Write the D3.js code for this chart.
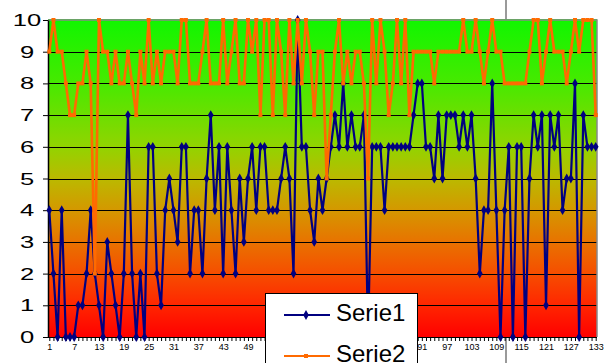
<!DOCTYPE html>
<html><head><meta charset="utf-8">
<script src="https://cdn.jsdelivr.net/npm/d3@7/dist/d3.min.js"></script>
<style>html,body{margin:0;padding:0;background:#fff;} svg{display:block;}</style>
</head><body><svg id="c" width="613" height="363"></svg>
<script>
const categories = d3.range(1, 134);
const xTickLabels = [1, 7, 13, 19, 25, 31, 37, 43, 49, 55, 61, 67, 73, 79, 85, 91, 97, 103, 109, 115, 121, 127, 133];
const yTickValues = [0, 1, 2, 3, 4, 5, 6, 7, 8, 9, 10];
const seriesNames = ["Serie1", "Serie2"];
const serie1 = [4,2,0,4,0,0,0,1,1,2, 4,2,1,0,3,2,1,0,2,7, 2,0,2,0,6,6,2,1,4,5,
  4,3,6,6,2,4,4,2,5,7, 4,6,2,6,4,2,5,3,5,6, 4,6,6,4,4,4,5,6,5,2,
  10,6,6,4,3,5,4,5,6,7, 6,8,6,7,6,6,7,0,6,6, 6,4,6,6,6,6,6,6,7,8,
  8,6,6,5,7,5,7,7,7,6, 7,6,7,5,2,4,4,8,4,0, 4,6,0,6,6,0,5,7,6,7,
  1,7,6,7,4,5,5,8,0,7, 6,6,6];
const serie2 = [9,10,9,9,8,7,7,8,8,9, 8,2,10,9,9,8,9,8,8,9, 8,7,9,8,10,8,9,8,9,9,
  9,8,10,10,8,8,8,9,10,8, 8,8,10,8,9,10,8,8,10,9, 10,7,10,10,7,10,9,7,10,8,
  10,8,10,9,7,9,9,5,7,9, 10,8,9,8,9,9,8,5,10,8, 10,9,7,8,10,8,10,7,9,9,
  9,9,9,8,9,9,9,9,9,9, 10,9,9,10,9,8,9,10,9,9, 8,8,8,8,8,8,9,10,10,8,
  9,10,9,9,9,8,9,10,9,10, 10,10,7];
const colors = ["#000080", "#ff6a00"];

const svg = d3.select("#c");
const W = 613, H = 363;
const plot = {left: 48, right: 597, top: 19, bottom: 337};

const x = d3.scalePoint().domain(categories).range([49.3, 595.7]);
const y = d3.scaleLinear().domain([0, 10]).range([337, 20]);

svg.append("rect").attr("width", W).attr("height", H).attr("fill", "#fff");

svg.append("line").attr("x1", 506).attr("x2", 506).attr("y1", 0).attr("y2", H)
  .attr("stroke", "#9a9a9a").attr("stroke-width", 2);

const defs = svg.append("defs");
const grad = defs.append("linearGradient").attr("id", "bg")
  .attr("x1", 0).attr("y1", 0).attr("x2", 0).attr("y2", 1);
[[0, "rgb(16,246,0)"], [0.2, "rgb(70,234,0)"], [0.4, "rgb(145,212,0)"],
 [0.5, "rgb(186,186,0)"], [0.6, "rgb(212,152,0)"], [0.7, "rgb(232,115,0)"],
 [0.8, "rgb(246,78,0)"], [0.9, "rgb(255,38,0)"], [1, "rgb(255,0,0)"]]
 .forEach(([o, c]) => grad.append("stop").attr("offset", o).attr("stop-color", c));

svg.append("rect").attr("x", plot.left).attr("y", plot.top)
  .attr("width", plot.right - plot.left).attr("height", plot.bottom - plot.top)
  .attr("fill", "url(#bg)");

svg.append("g").selectAll("line").data(yTickValues.filter(v => v > 0 && v < 10)).join("line")
  .attr("x1", plot.left).attr("x2", plot.right)
  .attr("y1", d => Math.round(y(d)) + 0.5).attr("y2", d => Math.round(y(d)) + 0.5)
  .attr("stroke", "#000").attr("stroke-width", 1);

svg.append("path")
  .attr("d", `M${plot.left},${y(10)}H${plot.right}V${plot.bottom}`)
  .attr("fill", "none").attr("stroke", "#888").attr("stroke-width", 1.5);

const xAxis = d3.axisBottom(x).tickSizeInner(4).tickSizeOuter(0)
  .tickFormat(d => xTickLabels.includes(d) ? d : "");
const gx = svg.append("g").attr("transform", `translate(0,${plot.bottom})`).call(xAxis);
gx.select(".domain").attr("stroke", "#000").attr("d", `M${plot.left},0.5H${plot.right}`);
gx.selectAll(".tick line").attr("stroke", "#000");
gx.selectAll(".tick text").attr("font-family", "Liberation Sans, Arial, sans-serif")
  .attr("font-size", 9).attr("fill", "#000").attr("y", 13).attr("dy", 0);

const yAxis = d3.axisLeft(y).tickValues(yTickValues).tickSizeInner(5).tickSizeOuter(0)
  .tickFormat("");
const gy = svg.append("g").attr("transform", `translate(${plot.left},0)`).call(yAxis);
gy.select(".domain").attr("stroke", "#000").attr("stroke-width", 1.5);
gy.selectAll(".tick line").attr("stroke", "#000");
svg.append("g").selectAll("text").data(yTickValues).join("text")
  .attr("transform", d => `translate(27,${y(d) + 6}) scale(1.55,1)`)
  .attr("text-anchor", "middle")
  .attr("font-family", "Liberation Sans, Arial, sans-serif")
  .attr("font-size", 16.5).attr("fill", "#000")
  .text(d => d);

const line = d3.line().x((d, i) => x(categories[i])).y(d => y(d));
const series = [serie1, serie2];
series.forEach((s, k) => {
  const g = svg.append("g");
  g.append("path").datum(s).attr("d", line).attr("fill", "none")
    .attr("stroke", colors[k]).attr("stroke-width", k === 0 ? 2.2 : 2.6)
    .attr("stroke-linejoin", "miter");
  if (k === 0) {
    g.selectAll("path.m").data(s).join("path").attr("class", "m")
      .attr("transform", (d, i) => `translate(${x(categories[i])},${y(d)})`)
      .attr("d", d3.symbol(d3.symbolDiamond, 28)).attr("fill", colors[k]);
  } else {
    g.selectAll("rect.m").data(s).join("rect").attr("class", "m")
      .attr("x", (d, i) => x(categories[i]) - 2).attr("y", d => y(d) - 2)
      .attr("width", 4).attr("height", 4).attr("fill", colors[k]);
  }
});

const lg = svg.append("g");
lg.append("rect").attr("x", 265.5).attr("y", 293.5).attr("width", 152).attr("height", 90)
  .attr("fill", "#fff").attr("stroke", "#000").attr("stroke-width", 1);
seriesNames.forEach((n, k) => {
  const ly = 315 + k * 41;
  lg.append("line").attr("x1", 284).attr("x2", 330).attr("y1", ly).attr("y2", ly)
    .attr("stroke", colors[k]).attr("stroke-width", 2.2);
  if (k === 0) {
    lg.append("path").attr("transform", `translate(306,${ly})`)
      .attr("d", d3.symbol(d3.symbolDiamond, 28)).attr("fill", colors[k]);
  } else {
    lg.append("rect").attr("x", 304).attr("y", ly - 2).attr("width", 4).attr("height", 4)
      .attr("fill", colors[k]);
  }
  lg.append("text").attr("x", 336).attr("y", ly + 6)
    .attr("font-family", "Liberation Sans, Arial, sans-serif").attr("font-size", 24)
    .attr("fill", "#000").text(n);
});
</script></body></html>
